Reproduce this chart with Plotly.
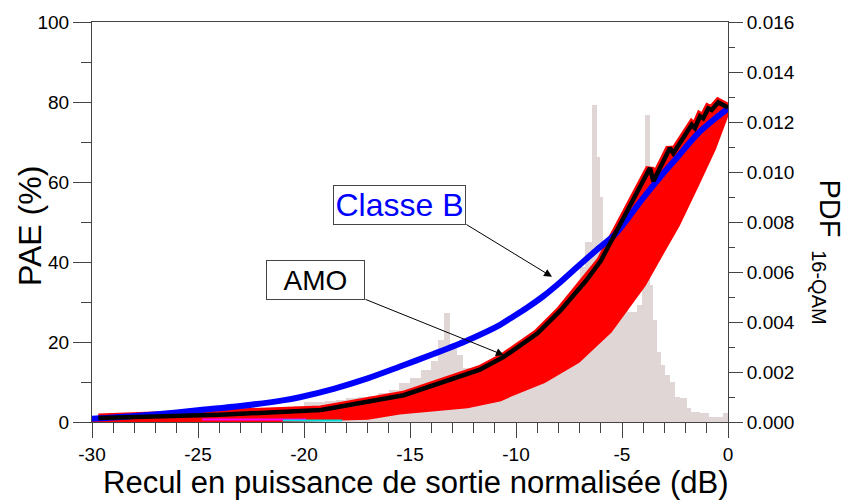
import plotly.graph_objects as go

# ---- data -------------------------------------------------------------
# Histogram of the 16-QAM output power back-off (PDF, right axis)
pdf_edges = [-30, -29, -28, -27, -26, -25, -24, -23, -22, -21,
             -20.5, -20, -19.5, -19, -18.5, -18, -17.5, -17, -16.5, -16,
             -15.5, -15, -14.5, -14, -13.7, -13.4, -13.1, -12.8, -12.5, -12,
             -11.5, -11, -10.5, -10, -9.5, -9, -8.5, -8, -7.5, -7,
             -6.75, -6.42, -6.18, -6.04, -5.9, -5.6, -5.3, -5.0, -4.7, -4.3,
             -4.05, -3.93, -3.68, -3.55, -3.35, -3.15, -2.95, -2.75, -2.5, -2.25,
             -1.95, -1.75, -1.3, -0.9, -0.25, 0]
pdf_vals = [0.00005, 0.00008, 0.00010, 0.00015, 0.00018, 0.00022, 0.00025, 0.00030, 0.00040, 0.00055,
            0.00065, 0.00080, 0.00080, 0.00085, 0.00090, 0.00095, 0.00100, 0.00105, 0.00115, 0.00130,
            0.00155, 0.00175, 0.00210, 0.00245, 0.00330, 0.00435, 0.00310, 0.00270, 0.00215, 0.00200,
            0.00210, 0.00230, 0.00260, 0.00290, 0.00320, 0.00360, 0.00400, 0.00450, 0.00520, 0.00620,
            0.00720, 0.01270, 0.01060, 0.00900, 0.00650, 0.00600, 0.00560, 0.00500, 0.00440, 0.00470,
            0.00560, 0.01230, 0.00550, 0.00410, 0.00280, 0.00230, 0.00190, 0.00160, 0.00100, 0.00095,
            0.00056, 0.00040, 0.00035, 0.00020, 0.00037]
assert len(pdf_edges) == len(pdf_vals) + 1

# AMO measured PAE (%) vs back-off (dB)
amo_x = [-29.7, -24.0, -19.2, -15.3, -11.7, -10.6, -9.0, -7.9, -6.7, -6.0,
         -5.25, -4.47, -3.68, -3.52, -2.74, -2.58, -1.71, -1.56, -1.32, -1.17,
         -0.93, -0.77, -0.46, 0.0]
amo_y = [1.0, 1.8, 3.0, 6.7, 13.1, 16.2, 22.1, 27.9, 35.3, 40.3,
         47.8, 55.6, 63.5, 60.2, 68.5, 67.2, 74.3, 73.5, 76.4, 75.9,
         78.4, 78.0, 79.9, 78.6]

# Lower envelope of the instantaneous PAE cloud
cloud_lo_x = [-30.0, -25.0, -20.2, -17.0, -15.5, -13.9, -12.3, -10.75, -10.3, -8.7,
              -7.1, -5.6, -4.0, -3.2, -2.4, -1.5, -0.7, 0.0]
cloud_lo_y = [0.2, 0.3, 0.8, 1.3, 2.6, 3.4, 4.2, 5.9, 7.0, 10.4,
              15.4, 22.9, 34.5, 42.0, 49.4, 59.4, 68.5, 78.4]

# Class B reference PAE (%)
classb_x = [-30.0, -28.0, -26.0, -24.9, -23.0, -21.0, -20.2, -18.6, -17.0, -15.5,
            -13.9, -12.3, -10.75, -10.3, -9.5, -8.7, -7.9, -7.1, -6.2, -5.33,
            -4.5, -4.0, -3.0, -2.42, -1.48, -0.69, 0.0]
classb_y = [0.8, 1.5, 2.4, 3.0, 4.0, 5.4, 6.2, 8.3, 10.9, 13.8,
            17.0, 20.4, 24.3, 25.8, 28.5, 31.5, 35.0, 38.8, 43.0, 46.9,
            52.5, 56.0, 62.5, 66.0, 71.8, 75.5, 78.4]

# Faint low-level traces near the baseline
magenta_x = [-24.8, -19.9]
magenta_y = [0.6, 0.6]
cyan_x = [-21.0, -19.7, -18.4, -18.2]
cyan_y = [0.4, 0.4, 0.4, 0.4]

x_ticks = [-30, -25, -20, -15, -10, -5, 0]
x_ticktext = ["-30", "-25", "-20", "-15", "-10", "-5", "0"]
pdf_ticks = [0.000, 0.002, 0.004, 0.006, 0.008, 0.010, 0.012, 0.014, 0.016]
pae_ticks = [0, 20, 40, 60, 80, 100]

# ---- figure -----------------------------------------------------------
FONT = "Liberation Sans, Arial, sans-serif"
AXC = "#444444"

centers = [(a + b) / 2 for a, b in zip(pdf_edges[:-1], pdf_edges[1:])]
widths = [b - a for a, b in zip(pdf_edges[:-1], pdf_edges[1:])]

fig = go.Figure()

fig.add_trace(go.Bar(x=centers, y=pdf_vals, width=widths, yaxis="y",
                     marker=dict(color="#e0d6d6", line=dict(width=0)),
                     showlegend=False, hoverinfo="skip"))

# PAE cloud: polygon between the AMO upper edge and the lower envelope
poly_x = amo_x + cloud_lo_x[::-1]
poly_y = amo_y + cloud_lo_y[::-1]
fig.add_trace(go.Scatter(x=poly_x, y=poly_y, yaxis="y2", mode="lines",
                         fill="toself", fillcolor="#ff0000",
                         line=dict(color="#ff0000", width=3),
                         showlegend=False, hoverinfo="skip"))
fig.add_trace(go.Scatter(x=cloud_lo_x, y=cloud_lo_y, yaxis="y2", mode="lines",
                         line=dict(color="#ff0000", width=6),
                         showlegend=False, hoverinfo="skip"))
fig.add_trace(go.Scatter(x=amo_x, y=amo_y, yaxis="y2", mode="lines",
                         line=dict(color="#ff0000", width=9),
                         showlegend=False, hoverinfo="skip"))

fig.add_trace(go.Scatter(x=magenta_x, y=magenta_y, yaxis="y2", mode="lines",
                         line=dict(color="#ff00ff", width=2),
                         showlegend=False, hoverinfo="skip"))
fig.add_trace(go.Scatter(x=cyan_x, y=cyan_y, yaxis="y2", mode="lines",
                         line=dict(color="#00e0e0", width=2),
                         showlegend=False, hoverinfo="skip"))

fig.add_trace(go.Scatter(x=classb_x, y=classb_y, yaxis="y2", mode="lines",
                         line=dict(color="#0000ff", width=6, shape="spline", smoothing=0.8),
                         showlegend=False, hoverinfo="skip"))
fig.add_trace(go.Scatter(x=amo_x, y=amo_y, yaxis="y2", mode="lines",
                         line=dict(color="#000000", width=4.5),
                         showlegend=False, hoverinfo="skip"))

tickfont = dict(family=FONT, size=19, color="black")

fig.update_layout(
    width=850, height=502,
    margin=dict(l=92, r=122, t=20, b=80),
    paper_bgcolor="white", plot_bgcolor="white",
    bargap=0,
    showlegend=False,
    xaxis=dict(range=[-30, 0], tickmode="array", tickvals=x_ticks, ticktext=x_ticktext,
               ticks="outside", ticklen=15, tickwidth=1, tickcolor=AXC,
               minor=dict(tickmode="linear", tick0=-30, dtick=1, ticks="outside",
                          ticklen=10, tickwidth=1, tickcolor=AXC, showgrid=False),
               showline=True, linecolor=AXC, linewidth=1, mirror=True,
               showgrid=False, zeroline=False, tickfont=tickfont),
    yaxis=dict(range=[0, 0.016], side="right", tickmode="array", tickvals=pdf_ticks,
               ticktext=[f"{v:.3f}" for v in pdf_ticks],
               ticks="outside", ticklen=14, tickwidth=1, tickcolor=AXC,
               minor=dict(tickmode="linear", tick0=0, dtick=0.001, ticks="outside",
                          ticklen=6, tickwidth=1, tickcolor=AXC, showgrid=False),
               showline=True, linecolor=AXC, linewidth=1,
               showgrid=False, zeroline=False, tickfont=tickfont),
    yaxis2=dict(range=[0, 100], side="left", overlaying="y", tickmode="array",
                tickvals=pae_ticks,
                ticks="outside", ticklen=18, tickwidth=1, tickcolor=AXC,
                minor=dict(tickmode="linear", tick0=0, dtick=10, ticks="outside",
                           ticklen=10, tickwidth=1, tickcolor=AXC, showgrid=False),
                showline=True, linecolor=AXC, linewidth=1,
                showgrid=False, zeroline=False, tickfont=tickfont),
)

# Axis titles (paper coordinates: plot area spans 636 x 402 px)
title_font = dict(family=FONT, color="black")
fig.add_annotation(text="Recul en puissance de sortie normalisée (dB)",
                   xref="paper", yref="paper", x=0.508, y=-0.152,
                   xanchor="center", yanchor="middle",
                   showarrow=False, font=dict(size=31, **title_font))
fig.add_annotation(text="PAE (%)", xref="paper", yref="paper", x=-0.0975, y=0.49,
                   xanchor="center", yanchor="middle",
                   textangle=-90, showarrow=False, font=dict(size=32, **title_font))
fig.add_annotation(text="PDF", xref="paper", yref="paper", x=1.161, y=0.533,
                   xanchor="center", yanchor="middle",
                   textangle=90, showarrow=False, font=dict(size=29, **title_font))
fig.add_annotation(text="16-QAM", xref="paper", yref="paper", x=1.144, y=0.338,
                   xanchor="center", yanchor="middle",
                   textangle=90, showarrow=False, font=dict(size=20, **title_font))

# Labelled boxes and their arrows
fig.add_annotation(text="Classe B", xref="x", yref="y2", x=-15.5, y=54.2,
                   showarrow=False, font=dict(family=FONT, size=32, color="#0000ff"),
                   bgcolor="white", bordercolor=AXC, borderwidth=1, borderpad=1,
                   width=129, height=36)
fig.add_annotation(text="AMO", xref="x", yref="y2", x=-19.47, y=35.4,
                   showarrow=False, font=dict(family=FONT, size=28, color="black"),
                   bgcolor="white", bordercolor=AXC, borderwidth=1, borderpad=1,
                   width=95, height=36)
fig.add_annotation(text="", xref="x", yref="y2", x=-8.3, y=36.3,
                   axref="x", ayref="y2", ax=-12.41, ay=49.6,
                   showarrow=True, arrowhead=2, arrowsize=1.6, arrowwidth=1,
                   arrowcolor="black")
fig.add_annotation(text="", xref="x", yref="y2", x=-10.57, y=16.7,
                   axref="x", ayref="y2", ax=-17.17, ay=30.8,
                   showarrow=True, arrowhead=2, arrowsize=1.6, arrowwidth=1,
                   arrowcolor="black")

fig.write_html("out.html")
